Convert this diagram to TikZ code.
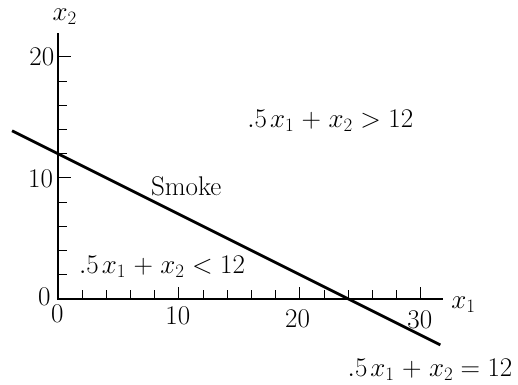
\RequirePackage{fix-cm}
\documentclass[tikz,border=0pt]{standalone}
\begin{document}
\begin{tikzpicture}[x=12.1pt,y=12.1pt,
  axis/.style={line width=1.1pt},
  tick/.style={line width=1pt},
  cline/.style={line width=2.8pt},
  lbl/.style={font=\fontsize{27}{32}\selectfont, inner sep=0pt}]
\useasboundingbox (-4.793,-7.107) rectangle (38.017,24.711);
\coordinate (O) at (0,0);
\coordinate (xend) at (31.8,0);
\coordinate (yend) at (0,22);
\draw[axis] (xend) -- (O) -- (yend);
% y ticks
\foreach \v in {2,4,...,20}{
  \pgfmathsetmacro{\len}{ifthenelse(mod(\v,10)==0,1.1,0.75)}
  \draw[tick] (0,\v) -- ++(\len,0);
}
% x ticks
\foreach \v in {2,4,...,30}{
  \pgfmathsetmacro{\len}{ifthenelse(mod(\v,10)==0,1.0,0.75)}
  \draw[tick] (\v,0) -- ++(0,\len);
}
% constraint line
\coordinate (lA) at (-3.8,13.9);
\coordinate (lB) at (31.6,-3.8);
\draw[cline] (lA) -- (lB);
% labels
\node[lbl] (x2) at (0.55,23.3) {$x_2$};
\node[lbl, anchor=east] (y20) at (-0.3,20) {20};
\node[lbl, anchor=east] (y10) at (-0.4,9.9) {10};
\node[lbl, anchor=east] (y0) at (-0.6,0.2) {0};
\node[lbl] (x0) at (-0.05,-1.25) {0};
\node[lbl] (x10) at (9.9,-1.35) {10};
\node[lbl] (x20) at (19.8,-1.6) {20};
\node[lbl] (x30) at (29.9,-1.75) {30};
\node[lbl] (x1) at (33.5,-0.5) {$x_1$};
\node[lbl] (smoke) at (10.6,9.3) {Smoke};
\node[lbl] (gt) at (22.5,14.7) {$.5\mkern2mu x_1\mkern1mu+\mkern1mu x_2>12$};
\node[lbl] (lt) at (8.6,2.65) {$.5\mkern2mu x_1\mkern1mu+\mkern1mu x_2<12$};
\node[lbl] (eq) at (30.75,-5.85) {$.5\mkern2mu x_1\mkern1mu+\mkern1mu x_2=12$};
\end{tikzpicture}
\end{document}
